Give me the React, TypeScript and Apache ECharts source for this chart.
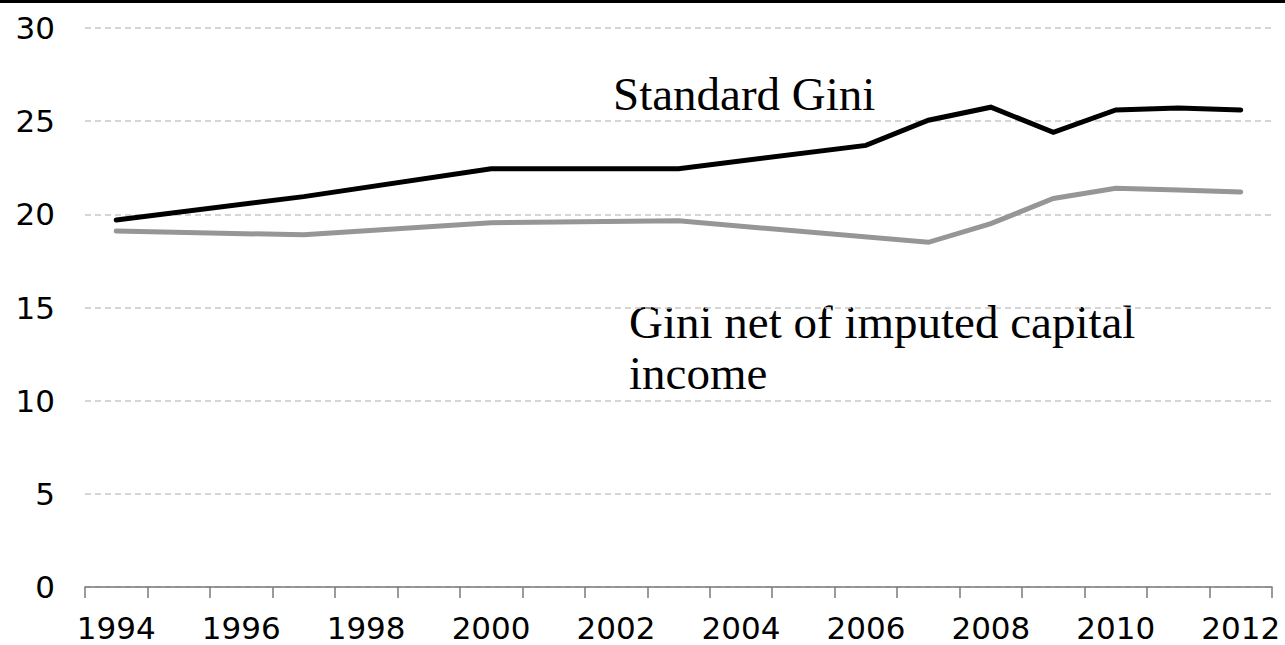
import React, { useEffect, useRef } from "react";
import * as echarts from "echarts";

const years = [
  "1994", "1995", "1996", "1997", "1998", "1999", "2000", "2001", "2002", "2003",
  "2004", "2005", "2006", "2007", "2008", "2009", "2010", "2011", "2012",
];
const standardGini = [
  19.7, null, null, 20.95, null, null, 22.45, null, null, 22.45,
  null, null, 23.7, 25.05, 25.75, 24.4, 25.6, 25.7, 25.6,
];
const netGini = [
  19.1, null, null, 18.9, null, null, 19.55, null, null, 19.65,
  null, null, null, 18.5, 19.5, 20.85, 21.4, 21.3, 21.2,
];
const yTicks = { min: 0, max: 30, interval: 5 };
const labelStandard = "Standard Gini";
const labelNet = "Gini net of imputed capital\nincome";

export default function App() {
  const ref = useRef<HTMLDivElement>(null);
  useEffect(() => {
    document.body.style.margin = "0";
    const chart = echarts.init(ref.current!, null, { renderer: "svg" });
    chart.setOption({
      animation: false,
      backgroundColor: "#ffffff",
      grid: { left: 85, right: 13, top: 28, bottom: 58 },
      xAxis: {
        type: "category",
        data: years,
        boundaryGap: true,
        axisLine: { show: true, lineStyle: { color: "#7a7a7a", width: 1.5 } },
        axisTick: {
          show: true,
          interval: 0,
          length: 11,
          inside: false,
          lineStyle: { color: "#7a7a7a", width: 1.5 },
        },
        axisLabel: {
          interval: 1,
          margin: 25,
          fontFamily: "DejaVu Sans",
          fontSize: 31,
          color: "#000000",
        },
        splitLine: { show: false },
      },
      yAxis: {
        type: "value",
        min: yTicks.min,
        max: yTicks.max,
        interval: yTicks.interval,
        axisLine: { show: false },
        axisTick: { show: false },
        axisLabel: {
          margin: 30,
          fontFamily: "DejaVu Sans",
          fontSize: 31,
          color: "#000000",
        },
        splitLine: { lineStyle: { color: "#c8c8c8", type: [6, 4], width: 1.5 } },
      },
      series: [
        {
          name: "Standard Gini",
          type: "line",
          data: standardGini,
          connectNulls: true,
          showSymbol: false,
          symbol: "none",
          lineStyle: { color: "#000000", width: 5, cap: "round", join: "miter" },
        },
        {
          name: "Gini net of imputed capital income",
          type: "line",
          data: netGini,
          connectNulls: true,
          showSymbol: false,
          symbol: "none",
          lineStyle: { color: "#969696", width: 5, cap: "round", join: "miter" },
        },
      ],
      graphic: [
        { type: "rect", left: 0, top: 0, shape: { width: 1285, height: 3 }, style: { fill: "#000000" } },
        {
          type: "text",
          x: 613,
          y: 70,
          style: {
            text: labelStandard,
            font: "47px 'Liberation Serif'",
            fill: "#000000",
            textAlign: "left",
            textVerticalAlign: "top",
          },
        },
        {
          type: "text",
          x: 629,
          y: 296,
          style: {
            text: labelNet,
            font: "47px 'Liberation Serif'",
            lineHeight: 51,
            fill: "#000000",
            textAlign: "left",
            textVerticalAlign: "top",
          },
        },
      ],
    });
    return () => chart.dispose();
  }, []);
  return (
    <div
      ref={ref}
      style={{ position: "absolute", left: 0, top: 0, width: 1285, height: 645 }}
    />
  );
}
